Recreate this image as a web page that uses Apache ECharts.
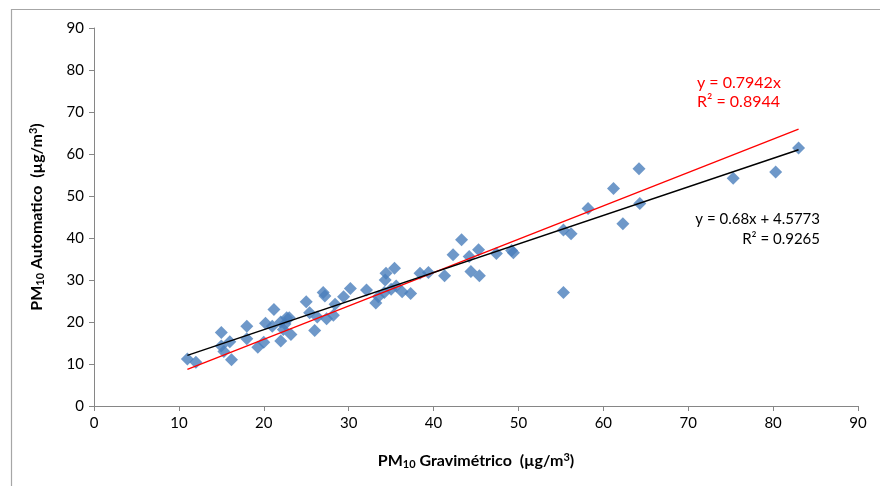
<!DOCTYPE html>
<html>
<head>
<meta charset="utf-8">
<script src="https://cdn.jsdelivr.net/npm/echarts@6/dist/echarts.min.js"></script>
<style>
  html, body { margin: 0; padding: 0; background: #fff; }
  #chart { width: 880px; height: 486px; }
</style>
</head>
<body>
<div id="chart"></div>
<script>
// PM10 gravimetrico (x) vs automatico (y)
var gravimetrico = [11, 12, 15, 15, 15.3, 16, 16.2, 18, 18, 19.3, 20, 20.2, 21.2, 21, 22, 22, 22.3, 22.7, 23.2, 23, 22.5,
    25, 25.4, 26, 26.3, 27, 27.2, 27.4, 28.2, 28.4, 29.4, 30.2,
    32.1, 33.2, 33.5, 34.2, 34.3, 34.4, 35, 35.4, 35.6, 36.3, 37.3, 38.4, 39.4,
    41.3, 42.3, 43.3, 44.2, 44.4, 45.3, 45.4, 47.4, 49.2, 49.4,
    55.3, 55.3, 56.2, 58.2, 61.2, 62.3, 64.2, 64.3, 75.3, 80.3, 83];
var automatico = [11.2, 10.4, 17.5, 14.3, 13, 15.3, 11, 19, 16, 14, 15.2, 19.7, 23, 19, 20, 15.5, 18.2, 21, 17, 21, 19.5,
    24.8, 22.2, 18, 21.2, 27, 26.2, 20.8, 21.6, 24.2, 26, 28,
    27.6, 24.5, 26, 27, 30, 31.6, 27.8, 32.8, 28.6, 27.2, 26.8, 31.6, 31.8,
    31, 36, 39.6, 35.6, 32, 37.2, 31, 36.3, 37, 36.5,
    41.9, 27, 41, 47, 51.8, 43.4, 56.5, 48.2, 54.2, 55.7, 61.4];

// trend lines as given on the chart
var linSlope = 0.68, linIntercept = 4.5773;
var zeroSlope = 0.7942;
var linLabel = ['y = 0.68x + 4.5773', 'R\u00b2 = 0.9265'];
var zeroLabel = ['y = 0.7942x', 'R\u00b2 = 0.8944'];

var pts = [];
for (var i = 0; i < gravimetrico.length; i++) {
    pts.push([gravimetrico[i], automatico[i]]);
}
var xmin = Math.min.apply(null, gravimetrico);
var xmax = Math.max.apply(null, gravimetrico);
var linLine = [[xmin, linSlope * xmin + linIntercept], [xmax, linSlope * xmax + linIntercept]];
var zeroLine = [[xmin, zeroSlope * xmin], [xmax, zeroSlope * xmax]];

var fam = 'Lato, "Open Sans", sans-serif';
var titleRich = {
    b: { fontSize: 16, fontWeight: 'bold', fontFamily: fam, color: '#000' },
    s: { fontSize: 11, fontWeight: 'bold', fontFamily: fam, color: '#000', verticalAlign: 'bottom', padding: [7, 0, 0, 0] },
    p: { fontSize: 11, fontWeight: 'bold', fontFamily: fam, color: '#000', verticalAlign: 'top', padding: [0, 0, 7, 0] }
};
var chart = echarts.init(document.getElementById('chart'));
var option = {
    animation: false,
    backgroundColor: '#fff',
    grid: { left: 94, right: 22, top: 28, bottom: 80 },
    xAxis: {
        type: 'value', min: 0, max: 90, interval: 10,
        axisLine: { lineStyle: { color: '#868686' } },
        axisTick: { show: true, length: 5, lineStyle: { color: '#868686' } },
        splitLine: { show: false },
        axisLabel: { color: '#000', fontSize: 15, fontFamily: fam, margin: 10 },
        name: '{b|PM}{s|10}{b| Gravimétrico  (µg/m}{p|3}{b|)}',
        nameLocation: 'middle', nameGap: 46,
        nameTextStyle: { rich: titleRich }
    },
    yAxis: {
        type: 'value', min: 0, max: 90, interval: 10,
        axisLine: { show: true, lineStyle: { color: '#868686' } },
        axisTick: { show: true, length: 5, lineStyle: { color: '#868686' } },
        splitLine: { show: false },
        axisLabel: { color: '#000', fontSize: 15, fontFamily: fam, margin: 10 },
        name: '{b|PM}{s|10}{b| Automatico  (µg/m}{p|3}{b|)}',
        nameLocation: 'middle', nameGap: 48, nameRotate: 90,
        nameTextStyle: { rich: titleRich }
    },
    graphic: [
        { type: 'rect', left: 9, top: 7, shape: { width: 900, height: 500 }, style: { fill: 'none', stroke: '#a6a6a6', lineWidth: 1.2 }, silent: true, z: -1 },
        { type: 'text', left: 697, top: 75, style: { text: zeroLabel[0], fill: '#ff0000', font: '16px ' + fam } },
        { type: 'text', left: 697, top: 94, style: { text: zeroLabel[1], fill: '#ff0000', font: '16px ' + fam } },
        { type: 'text', right: 60, top: 212, style: { text: linLabel[0], fill: '#000', font: '15px ' + fam } },
        { type: 'text', right: 60, top: 232, style: { text: linLabel[1], fill: '#000', font: '15px ' + fam } }
    ],
    series: [
        {
            type: 'line', data: zeroLine, symbol: 'none',
            lineStyle: { color: '#ff0000', width: 1.3 }, z: 3
        },
        {
            type: 'line', data: linLine, symbol: 'none',
            lineStyle: { color: '#000', width: 1.5 }, z: 3
        },
        {
            type: 'scatter', data: pts, symbol: 'diamond', symbolSize: 13,
            itemStyle: { color: '#4a7ebb' }, z: 2
        }
    ]
};
chart.setOption(option);
</script>
</body>
</html>
